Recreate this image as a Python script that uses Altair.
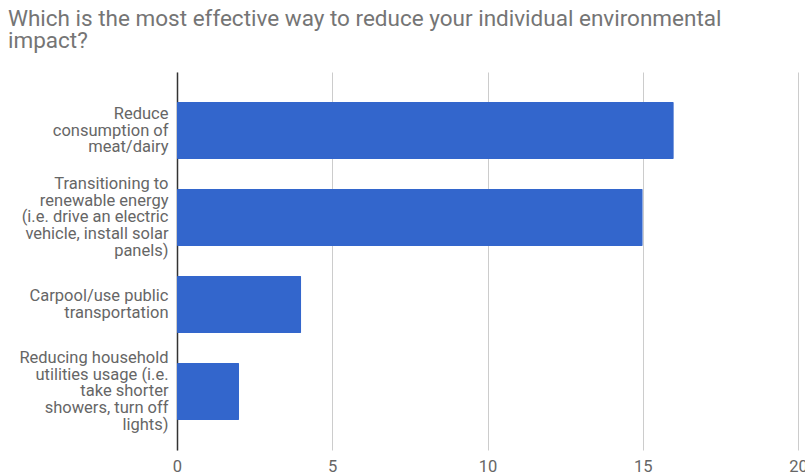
import altair as alt
import pandas as pd

categories = [
    "Reduce|consumption of|meat/dairy",
    "Transitioning to|renewable energy|(i.e. drive an electric|vehicle, install solar|panels)",
    "Carpool/use public|transportation",
    "Reducing household|utilities usage (i.e.|take shorter|showers, turn off|lights)",
]
values = [16, 15, 4, 2]
x_ticks = [0, 5, 10, 15, 20]

df = pd.DataFrame({"option": categories, "count": values})

chart = (
    alt.Chart(df)
    .mark_bar(color="#3366CC", cornerRadius=1)
    .encode(
        x=alt.X(
            "count:Q",
            scale=alt.Scale(domain=[0, 20], nice=False),
            axis=alt.Axis(
                values=x_ticks,
                title=None,
                domain=False,
                ticks=False,
                grid=True,
                gridColor="#cccccc",
                labelFont="Roboto",
                labelFontSize=16.5,
                labelColor="#666666",
                labelPadding=8,
                labelFlush=False,
            ),
        ),
        y=alt.Y(
            "option:N",
            sort=categories,
            scale=alt.Scale(paddingInner=0.345, paddingOuter=0.345),
            axis=alt.Axis(
                title=None,
                domain=True,
                domainColor="#333333",
                domainWidth=1.5,
                ticks=False,
                labelExpr="split(datum.label, '|')",
                labelOffset={"expr": "-(length(split(datum.value, '|')) - 1) * 8.4"},
                labelFont="Roboto",
                labelFontSize=16.5,
                labelColor="#666666",
                labelLineHeight=16.8,
                labelPadding=9,
                labelLimit=200,
            ),
        ),
    )
    .properties(
        width=621,
        height=378,
        padding={"left": 177, "top": 72, "right": 7, "bottom": 24},
        autosize=alt.AutoSizeParams(type="none"),
        title=alt.Title(
            text=["Which is the most effective way to reduce your individual environmental", "impact?"],
            anchor="start",
            frame="group",
            font="Roboto",
            fontSize=22.5,
            fontWeight="normal",
            color="#757575",
            lineHeight=22,
            dx=-169,
            offset=20,
        ),
    )
    .configure_view(stroke=None)
)

chart.save("out.html", embed_options={"renderer": "svg", "actions": False})
